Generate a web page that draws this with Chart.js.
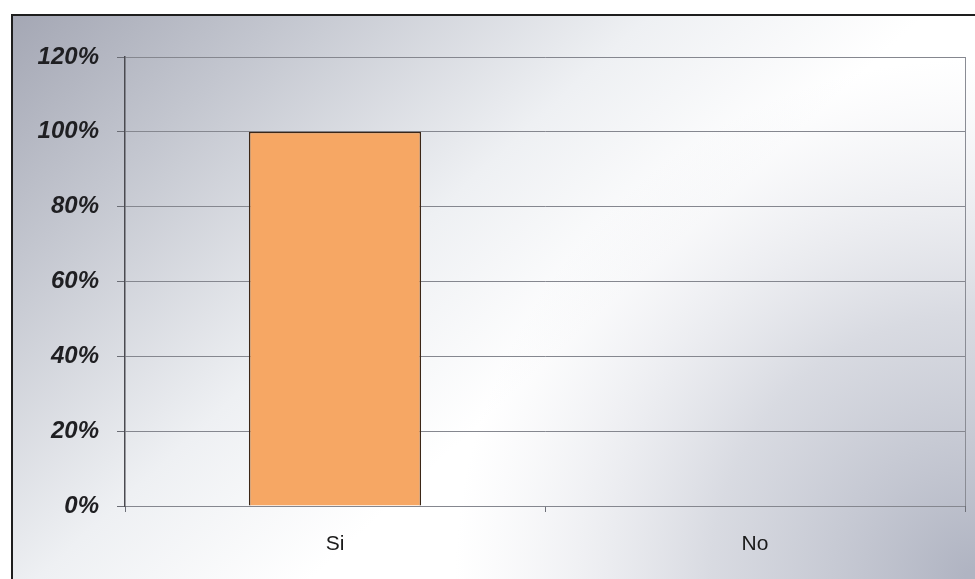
<!DOCTYPE html>
<html>
<head>
<meta charset="utf-8">
<script src="https://cdn.jsdelivr.net/npm/chart.js@4/dist/chart.umd.min.js"></script>
<style>
    html, body { margin: 0; padding: 0; background: #ffffff; }
    #wrap { width: 975px; height: 579px; position: relative; }
</style>
</head>
<body>
<div id="wrap"><canvas id="surveyChart"></canvas></div>
<script>
// Chart data
const categories = ['Si', 'No'];
const percentValues = [100, 0];
const yTickValues = [0, 20, 40, 60, 80, 100, 120];

// Scanned-sheet style background: gray top left fading to white, gray again at the bottom right
const paperBackground = {
    id: 'paperBackground',
    beforeDraw(chart) {
        const ctx = chart.ctx;
        const w = chart.width, h = chart.height;
        ctx.save();
        ctx.fillStyle = '#ffffff';
        ctx.fillRect(0, 0, w, h);

        const boxX = 12, boxY = 15;
        const lin = ctx.createLinearGradient(boxX, boxY, 430, 470);
        lin.addColorStop(0, '#a4a7b4');
        lin.addColorStop(0.3, '#c3c6cf');
        lin.addColorStop(0.7, '#eef0f3');
        lin.addColorStop(1, '#ffffff');
        ctx.fillStyle = lin;
        ctx.fillRect(boxX, boxY, w - boxX, h - boxY);

        const rad = ctx.createRadialGradient(w, h, 10, w, h, 520);
        rad.addColorStop(0, 'rgba(176,180,194,1)');
        rad.addColorStop(0.5, 'rgba(200,203,213,0.7)');
        rad.addColorStop(1, 'rgba(220,222,230,0)');
        ctx.fillStyle = rad;
        ctx.fillRect(boxX, boxY, w - boxX, h - boxY);

        // outer frame (left and top edges visible)
        ctx.strokeStyle = '#1e1e1e';
        ctx.lineWidth = 2;
        ctx.beginPath();
        ctx.moveTo(boxX, h);
        ctx.lineTo(boxX, boxY);
        ctx.lineTo(w, boxY);
        ctx.stroke();
        ctx.restore();
    },
    afterDatasetsDraw(chart) {
        // right edge of the plot area
        const a = chart.chartArea;
        const ctx = chart.ctx;
        ctx.save();
        ctx.strokeStyle = '#8a8c94';
        ctx.lineWidth = 1;
        ctx.beginPath();
        ctx.moveTo(a.right + 0.5, a.top);
        ctx.lineTo(a.right + 0.5, a.bottom);
        ctx.stroke();
        ctx.restore();
    }
};

new Chart(document.getElementById('surveyChart'), {
    type: 'bar',
    data: {
        labels: categories,
        datasets: [{
            data: percentValues,
            backgroundColor: '#f6a764',
            borderColor: '#3b2616',
            borderWidth: 1.5,
            barPercentage: 0.41,
            categoryPercentage: 1.0
        }]
    },
    options: {
        responsive: true,
        maintainAspectRatio: false,
        animation: false,
        layout: { padding: { left: 0, top: 57, right: 10, bottom: 0 } },
        plugins: {
            legend: { display: false },
            tooltip: { enabled: false }
        },
        scales: {
            x: {
                grid: {
                    offset: true,
                    drawOnChartArea: false,
                    drawTicks: true,
                    tickLength: 6,
                    color: '#6e7078'
                },
                border: { display: false },
                ticks: {
                    padding: 20,
                    color: '#1a1a1a',
                    font: { family: 'Liberation Sans, Arial, sans-serif', size: 21 }
                },
                afterFit: scale => { scale.height = 73; }
            },
            y: {
                min: 0,
                max: 120,
                afterBuildTicks: scale => { scale.ticks = yTickValues.map(v => ({ value: v })); },
                grid: {
                    color: '#85878f',
                    lineWidth: 1,
                    tickLength: 8,
                    tickColor: '#6a6c74'
                },
                border: { display: true, color: '#4a4a50', width: 1.5 },
                ticks: {
                    padding: 18,
                    color: '#1f1f22',
                    font: { family: 'Liberation Sans, Arial, sans-serif', size: 24, weight: 'bold', style: 'italic' },
                    callback: value => value + '%'
                },
                afterFit: scale => { scale.width = 125; }
            }
        }
    },
    plugins: [paperBackground]
});
</script>
</body>
</html>
